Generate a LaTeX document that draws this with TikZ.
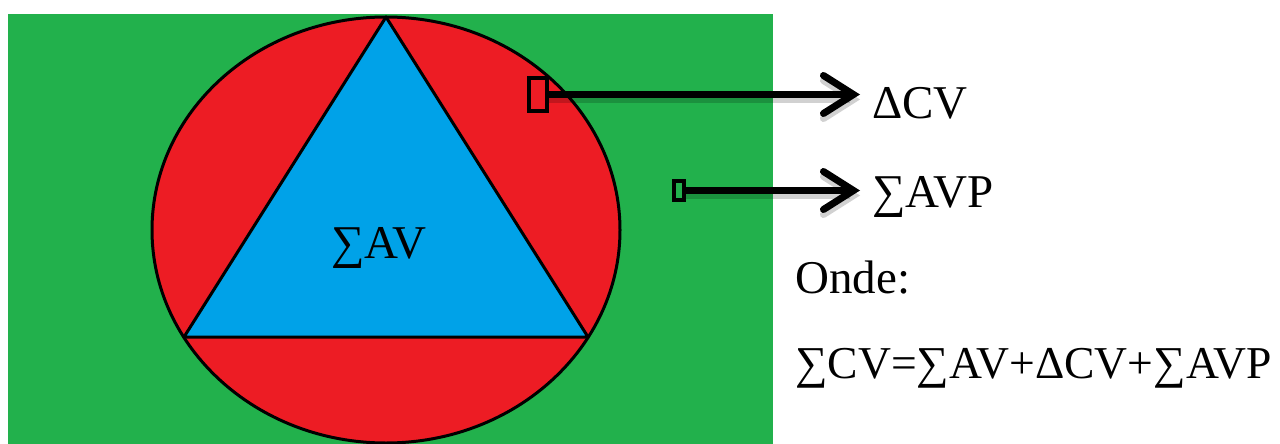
\documentclass[tikz,border=0pt]{standalone}
\usepackage{fontspec}
\setmainfont{Liberation Serif}
\usetikzlibrary{arrows.meta,positioning,calc}

\definecolor{paintgreen}{HTML}{22B14C}
\definecolor{paintred}{HTML}{ED1C24}
\definecolor{paintblue}{HTML}{00A2E8}

\begin{document}
\begin{tikzpicture}[
  x=0.5pt, y=-0.5pt,
  tag/.style={draw, line width=2pt, inner sep=0pt},
  pointer/.style={-{Straight Barb[length=15pt, width=19pt, line cap=round]}, line width=3.5pt, shorten >=6pt},
  shade/.style={pointer, draw=black, opacity=0.18, transform canvas={yshift=-2.5pt}},
  label/.style={inner sep=0pt, anchor=base west, font=\fontsize{23.5}{28}\selectfont},
  every node/.style={font=\fontsize{23.5}{28}\selectfont}
]
\useasboundingbox (0,0) rectangle (1280,444);

% background field
\fill[paintgreen] (8,14) rectangle (773,444);

% circle, triangle and the chord under it
\begin{scope}
  \clip (0,0) rectangle (1280,444);
  \draw[fill=paintred, line width=1.5pt] (386,230) ellipse [x radius=117pt, y radius=106.5pt];
\end{scope}
\coordinate (apex) at (386,17);
\coordinate (left) at (184,337);
\coordinate (right) at (588,337);
\draw[fill=paintblue, line width=1.5pt, line join=round] (apex) -- (left) -- (right) -- cycle;

\node[inner sep=0pt, anchor=base west] (sumAV) at (331,258) {∑AV};

% markers with their arrows
\node[tag, minimum width=9pt, minimum height=16.5pt] (tagCV) at (538,94.5) {};
\node[tag, minimum width=5pt, minimum height=9.5pt] (tagAVP) at (679,190.5) {};

\node[label] (labCV) at (872,119) {ΔCV};
\node[label] (labAVP) at (872,207) {∑AVP};

% soft shadow under the arrows
\draw[shade] (tagCV.east) -- (tagCV.east -| labCV.west);
\draw[shade] (tagAVP.east) -- (tagAVP.east -| labAVP.west);
\draw[pointer] (tagCV.east) -- (tagCV.east -| labCV.west);
\draw[pointer] (tagAVP.east) -- (tagAVP.east -| labAVP.west);

% legend
\node[label] (onde) at (795,293) {Onde:};
\node[label, font=\fontsize{22.8}{27}\selectfont] (formula) at (795,378) {∑CV=∑AV+ΔCV+∑AVP};

\end{tikzpicture}
\end{document}
